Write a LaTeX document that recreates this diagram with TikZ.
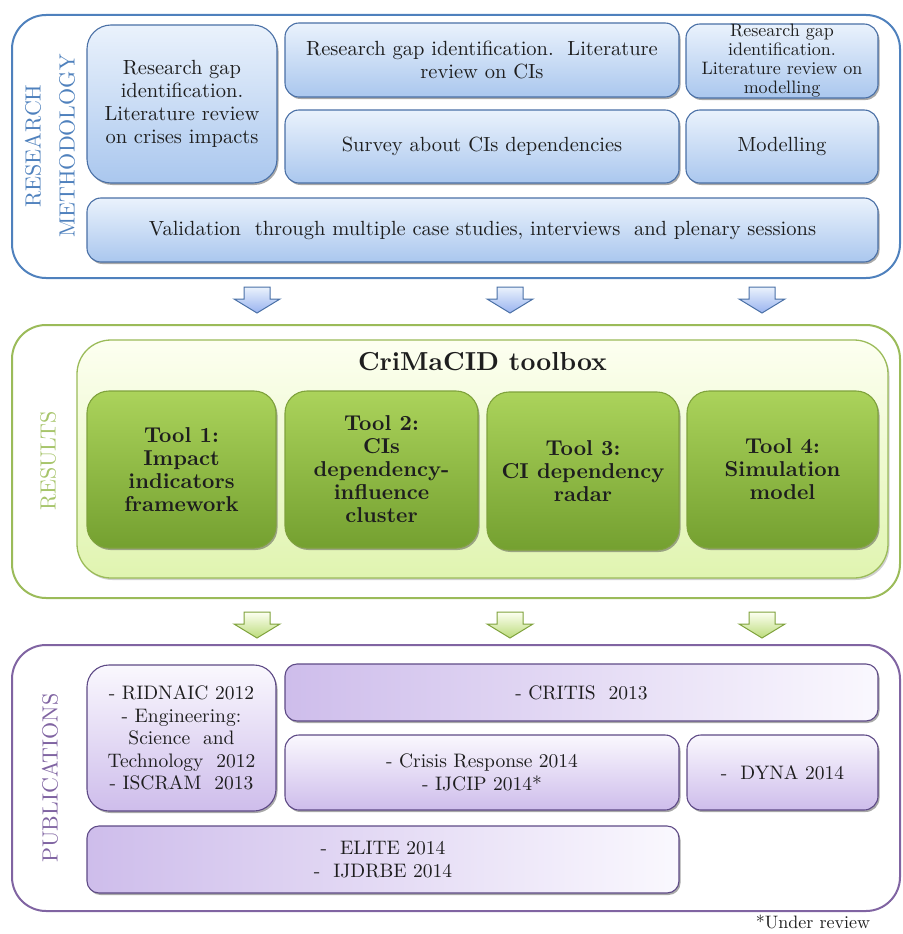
\documentclass[tikz,border=0pt]{standalone}
\usepackage{fontspec}
\setmainfont{lmroman10-regular.otf}[BoldFont=lmroman10-bold.otf, ItalicFont=lmroman10-italic.otf, BoldItalicFont=lmroman10-bolditalic.otf]
\usetikzlibrary{shadows}
\definecolor{txt}{HTML}{1E1E1E}
\definecolor{blueline}{HTML}{4F81BD}
\definecolor{bluebd}{HTML}{4A70A6}
\definecolor{bluetop}{HTML}{EAF2FC}
\definecolor{bluebot}{HTML}{AAC7EE}
\definecolor{greenline}{HTML}{9BBB59}
\definecolor{greenlab}{HTML}{A7C56B}
\definecolor{greenbd}{HTML}{7FA23C}
\definecolor{greentop}{HTML}{ABD35B}
\definecolor{greenbot}{HTML}{74A030}
\definecolor{tbtop}{HTML}{FDFFF1}
\definecolor{tbbot}{HTML}{E0F4B0}
\definecolor{purpline}{HTML}{8064A2}
\definecolor{purpbd}{HTML}{5E4A86}
\definecolor{purpdark}{HTML}{CEBDEB}
\definecolor{purplight}{HTML}{FAF8FE}
\begin{document}
\begin{tikzpicture}[x=1pt,y=-1pt,
  box/.style={rounded corners=#1, draw, line width=1.1pt, inner sep=0pt, align=center, text=txt,
    drop shadow={shadow xshift=1.5pt, shadow yshift=-2pt, opacity=.45, fill=black!75}},
  box/.default=14pt,
  bluebox/.style={box=#1, draw=bluebd, top color=bluetop, bottom color=bluebot, font=\fontsize{20.5}{23}\selectfont},
  bluebox/.default=14pt,
  toolbox/.style={box=22pt, draw=greenbd, top color=greentop, bottom color=greenbot, font=\fontsize{21.5}{23}\selectfont\bfseries},
  pubv/.style={box=#1, draw=purpbd, top color=purplight, bottom color=purpdark, font=\fontsize{19.5}{22.5}\selectfont},
  pubv/.default=14pt,
  pubh/.style={box=12pt, draw=purpbd, left color=purpdark, right color=purplight, font=\fontsize{19.5}{22.5}\selectfont},
  outer/.style={rounded corners=34pt, line width=2pt, fill=white},
  sidelab/.style={rotate=90, align=center, font=\fontsize{22}{34}\selectfont},
  arrowblue/.style={draw=bluebd, line width=1pt, top color=bluetop, bottom color=bluebot!90!blue},
  arrowgreen/.style={draw=greenbd, line width=1pt, top color=tbtop, bottom color=greentop!80!white}
]
\useasboundingbox (0,0) rectangle (902,934);
\newcommand\blkarrow[3]{%
  \path[#3] (#1-13,#2) -- (#1+13,#2) -- (#1+13,#2+12) -- (#1+23,#2+12) -- (#1,#2+26) -- (#1-23,#2+12) -- (#1-13,#2+12) -- cycle;}

% ---------------- Research methodology ----------------
\draw[outer, draw=blueline] (12,15) rectangle (900,278);
\node[sidelab, text=blueline] (rmlab) at (50,146) {RESEARCH\\METHODOLOGY};
\node[bluebox=24pt, minimum width=190pt, minimum height=158pt] (ra) at (182,104)
  {Research gap\\identification.\\Literature review\\on crises impacts};
\node[bluebox, minimum width=394pt, minimum height=74pt] (rb) at (482,60)
  {Research gap identification.\ \ Literature\\review on CIs};
\node[bluebox, minimum width=192pt, minimum height=74pt, font=\fontsize{18}{19}\selectfont] (rc) at (782,61)
  {Research gap\\identification.\\Literature review on\\modelling};
\node[bluebox, minimum width=394pt, minimum height=73pt] (rd) at (482,146.5)
  {Survey about CIs dependencies};
\node[bluebox, minimum width=192pt, minimum height=73pt] (re) at (782,146.5)
  {Modelling};
\node[bluebox, minimum width=791pt, minimum height=64pt] (rf) at (482.5,230)
  {Validation\ \ through multiple case studies, interviews\ \ and plenary sessions};

% arrows
\blkarrow{257}{287}{arrowblue}
\blkarrow{510}{287}{arrowblue}
\blkarrow{762}{287}{arrowblue}

% ---------------- Results ----------------
\draw[outer, draw=greenline] (12,325) rectangle (900,598);
\node[sidelab, text=greenlab] (reslab) at (48,461) {RESULTS};
\node[rounded corners=34pt, draw=greenline, line width=1.3pt, top color=tbtop, bottom color=tbbot,
  minimum width=811pt, minimum height=238pt, inner sep=0pt,
  drop shadow={shadow xshift=1.5pt, shadow yshift=-2pt, opacity=.3, fill=black!60}] (tb) at (482.5,459) {};
\node[font=\fontsize{26}{28}\selectfont\bfseries, text=txt] (tbtitle) at (482.5,362) {CriMaCID toolbox};
\node[toolbox, minimum width=189pt, minimum height=157pt] (t1) at (181.5,469.5)
  {Tool 1:\\Impact\\indicators\\framework};
\node[toolbox, minimum width=193pt, minimum height=157pt] (t2) at (381.5,469.5)
  {Tool 2:\\CIs\\dependency-\\influence\\cluster};
\node[toolbox, minimum width=192pt, minimum height=158pt] (t3) at (583,471)
  {Tool 3:\\CI dependency\\radar};
\node[toolbox, minimum width=191pt, minimum height=157pt] (t4) at (782.5,469.5)
  {Tool 4:\\Simulation\\model};

% arrows
\blkarrow{257}{612}{arrowgreen}
\blkarrow{510}{612}{arrowgreen}
\blkarrow{762}{612}{arrowgreen}

% ---------------- Publications ----------------
\draw[outer, draw=purpline] (12,645) rectangle (900,911);
\node[sidelab, text=purpline] (publab) at (50,778) {PUBLICATIONS};
\node[pubv=22pt, minimum width=189pt, minimum height=146pt] (p1) at (181.5,738)
  {- RIDNAIC 2012\\- Engineering:\\Science\ \ and\\Technology\ \ 2012\\- ISCRAM\ \ 2013};
\node[pubh, minimum width=593pt, minimum height=57pt] (p2) at (581.5,692.5)
  {- CRITIS\ \ 2013};
\node[pubv, minimum width=394pt, minimum height=75pt] (p3) at (482,772.5)
  {- Crisis Response 2014\\- IJCIP 2014*};
\node[pubv, minimum width=191pt, minimum height=75pt] (p4) at (782.5,772.5)
  {-\ \ DYNA 2014};
\node[pubh, minimum width=592pt, minimum height=67pt] (p5) at (383,859.5)
  {-\ \ ELITE 2014\\-\ \ IJDRBE 2014};

\node[font=\fontsize{18}{19}\selectfont, text=txt] (note) at (813,922) {*Under review};
\end{tikzpicture}
\end{document}
